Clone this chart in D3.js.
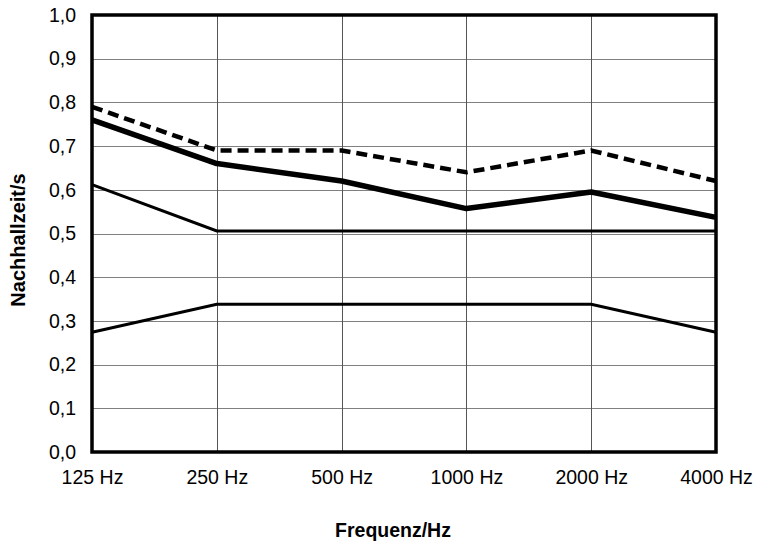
<!DOCTYPE html>
<html><head><meta charset="utf-8">
<script src="https://cdn.jsdelivr.net/npm/d3@7"></script>
<style>body{margin:0;background:#fff}svg{display:block}text{font-family:"Liberation Sans",Arial,sans-serif}</style>
</head><body><svg id="c" width="759" height="549"></svg>
<script>
const categories = ["125 Hz","250 Hz","500 Hz","1000 Hz","2000 Hz","4000 Hz"];
const dashedSeries = [0.79, 0.69, 0.69, 0.64, 0.69, 0.62];
const thickSeries  = [0.76, 0.66, 0.62, 0.557, 0.595, 0.537];
const upperLimit   = [0.612, 0.506, 0.506, 0.506, 0.506, 0.506];
const lowerLimit   = [0.274, 0.338, 0.338, 0.338, 0.338, 0.274];
const yTicks = [0,0.1,0.2,0.3,0.4,0.5,0.6,0.7,0.8,0.9,1.0];

const svg = d3.select("#c");
const L=92, R=716, T=15, B=452;
const x = d3.scalePoint().domain(categories).range([L,R]).padding(0);
const y = d3.scaleLinear().domain([0,1]).range([B,T]);
const fmt = v => d3.format(".1f")(v).replace(".", ",");

svg.append("g").selectAll("line").data(yTicks).join("line")
  .attr("x1",L).attr("x2",R).attr("y1",d=>Math.round(y(d))+0.5).attr("y2",d=>Math.round(y(d))+0.5)
  .attr("stroke","#808080").attr("stroke-width",1);
svg.append("g").selectAll("line").data(categories).join("line")
  .attr("x1",d=>Math.round(x(d))+0.5).attr("x2",d=>Math.round(x(d))+0.5).attr("y1",T).attr("y2",B)
  .attr("stroke","#555").attr("stroke-width",1);

const line = d3.line().x((d,i)=>x(categories[i])).y(d=>y(d));
svg.append("path").datum(lowerLimit).attr("d",line).attr("fill","none").attr("stroke","#000").attr("stroke-width",3);
svg.append("path").datum(upperLimit).attr("d",line).attr("fill","none").attr("stroke","#000").attr("stroke-width",3);
svg.append("path").datum(thickSeries).attr("d",line).attr("fill","none").attr("stroke","#000").attr("stroke-width",5.5).attr("stroke-linejoin","round");
svg.append("path").datum(dashedSeries).attr("d",line).attr("fill","none").attr("stroke","#000").attr("stroke-width",4.5).attr("stroke-dasharray","11,6");

svg.append("rect").attr("x",L).attr("y",T).attr("width",R-L).attr("height",B-T)
  .attr("fill","none").attr("stroke","#000").attr("stroke-width",3.5);

const ya = svg.append("g").attr("transform",`translate(${L},0)`)
  .call(d3.axisLeft(y).tickValues(yTicks).tickFormat(fmt).tickSize(0).tickPadding(16));
ya.select(".domain").remove();
ya.selectAll("text").attr("font-size",19.5).attr("fill","#000").style("font-family","'Liberation Sans',Arial,sans-serif");

const xa = svg.append("g").attr("transform",`translate(0,${B})`)
  .call(d3.axisBottom(x).tickSize(0).tickPadding(18));
xa.select(".domain").remove();
xa.selectAll("text").attr("font-size",19.5).attr("fill","#000").style("font-family","'Liberation Sans',Arial,sans-serif");

svg.append("text").attr("x",393).attr("y",537).attr("text-anchor","middle")
  .attr("font-size",19.5).attr("font-weight","bold").text("Frequenz/Hz");
svg.append("text").attr("transform","translate(25,240) rotate(-90)").attr("text-anchor","middle")
  .attr("font-size",20).attr("font-weight","bold").text("Nachhallzeit/s");
</script></body></html>
